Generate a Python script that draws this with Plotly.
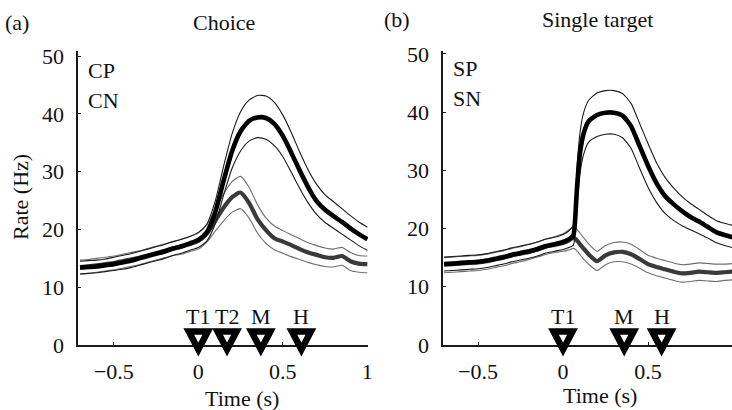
import plotly.graph_objects as go

# ---------------- data ----------------
t_choice = [-0.70, -0.65, -0.60, -0.55, -0.50, -0.45, -0.40, -0.35, -0.30, -0.25, -0.20, -0.15,
            -0.10, -0.05, 0.00, 0.05, 0.10, 0.15, 0.20, 0.25, 0.30, 0.35, 0.40, 0.45, 0.50,
            0.55, 0.60, 0.65, 0.70, 0.75, 0.80, 0.85, 0.90, 0.95, 1.00]

cp_mean = [13.4, 13.5, 13.6, 13.8, 14.0, 14.3, 14.6, 15.0, 15.4, 15.8, 16.2, 16.7,
           17.1, 17.6, 18.2, 19.5, 23.0, 28.5, 33.6, 37.0, 38.8, 39.4, 39.3, 38.3, 36.2,
           33.3, 30.2, 27.3, 24.9, 23.4, 22.3, 21.3, 20.2, 19.2, 18.3]
cp_upper = [14.5, 14.6, 14.7, 14.9, 15.2, 15.5, 15.8, 16.2, 16.6, 17.0, 17.4, 17.9,
            18.3, 18.8, 19.5, 20.9, 24.9, 31.0, 36.6, 40.4, 42.4, 43.2, 43.1, 42.0, 39.8,
            36.8, 33.4, 30.3, 27.8, 26.0, 24.8, 23.6, 22.4, 21.3, 20.4]
cp_lower = [12.3, 12.4, 12.5, 12.7, 12.9, 13.1, 13.4, 13.8, 14.2, 14.6, 15.0, 15.5,
            15.9, 16.4, 16.9, 18.0, 21.0, 26.0, 30.6, 33.6, 35.3, 35.9, 35.6, 34.5, 32.6,
            29.9, 27.1, 24.6, 22.6, 21.2, 20.2, 19.2, 18.2, 17.2, 16.4]

cn_mean = [13.5, 13.6, 13.8, 14.0, 14.2, 14.5, 14.8, 15.1, 15.5, 15.9, 16.3, 16.7,
           17.0, 17.5, 18.0, 19.3, 21.5, 23.8, 25.6, 26.4, 24.6, 21.8, 19.9, 18.5, 17.9,
           17.3, 16.6, 16.0, 15.6, 15.2, 15.1, 15.4, 14.5, 14.1, 14.0]
cn_upper = [14.7, 14.8, 15.0, 15.2, 15.4, 15.7, 16.0, 16.3, 16.7, 17.1, 17.5, 17.9,
            18.3, 18.8, 19.4, 20.8, 23.4, 26.2, 28.3, 29.2, 27.3, 24.3, 22.0, 20.6, 19.8,
            19.1, 18.4, 17.7, 17.2, 16.8, 16.6, 16.9, 16.0, 15.5, 15.4]
cn_lower = [12.3, 12.4, 12.6, 12.8, 13.0, 13.3, 13.6, 13.9, 14.3, 14.7, 15.1, 15.5,
            15.7, 16.2, 16.6, 17.8, 19.7, 21.5, 23.0, 23.6, 22.0, 19.4, 17.6, 16.5, 15.9,
            15.3, 14.8, 14.3, 13.9, 13.6, 13.5, 13.8, 12.9, 12.6, 12.5]

t_single = [-0.70, -0.65, -0.60, -0.55, -0.50, -0.45, -0.40, -0.35, -0.30, -0.25, -0.20, -0.15,
            -0.10, -0.05, 0.00, 0.03, 0.06, 0.07, 0.08, 0.09, 0.10, 0.12, 0.15,
            0.20, 0.25, 0.30, 0.35, 0.40, 0.45, 0.50, 0.55, 0.60, 0.65, 0.70, 0.75,
            0.80, 0.85, 0.90, 0.95, 1.00]

sp_mean = [13.9, 14.0, 14.1, 14.2, 14.3, 14.5, 14.8, 15.1, 15.5, 15.8, 16.1, 16.5,
           17.0, 17.3, 17.7, 18.1, 18.8, 21.0, 26.0, 30.0, 33.0, 36.2, 38.4,
           39.5, 39.9, 39.9, 39.4, 37.6, 34.2, 30.8, 27.8, 25.6, 24.2, 23.0, 22.0,
           21.2, 20.3, 19.4, 18.9, 18.5]
sp_upper = [15.1, 15.2, 15.3, 15.4, 15.5, 15.7, 16.0, 16.3, 16.7, 17.0, 17.3, 17.7,
            18.2, 18.5, 19.0, 19.5, 20.5, 23.5, 29.0, 33.5, 36.5, 39.8, 42.0,
            43.3, 43.7, 43.7, 43.2, 41.5, 38.1, 34.6, 31.3, 28.8, 27.0, 25.5, 24.3,
            23.3, 22.3, 21.4, 20.9, 20.5]
sp_lower = [12.7, 12.8, 12.9, 13.0, 13.1, 13.3, 13.6, 13.9, 14.3, 14.6, 14.9, 15.3,
            15.8, 16.1, 16.4, 16.7, 17.1, 18.5, 22.5, 26.5, 29.5, 32.6, 34.8,
            35.8, 36.2, 36.2, 35.6, 33.8, 30.4, 27.1, 24.5, 22.6, 21.4, 20.5, 19.8,
            19.1, 18.4, 17.6, 17.1, 16.7]

sn_mean = [13.8, 13.9, 14.0, 14.1, 14.2, 14.4, 14.7, 15.0, 15.4, 15.7, 16.0, 16.4,
           16.9, 17.2, 17.5, 17.9, 18.4, 18.3, 18.0, 17.7, 17.3, 16.6, 15.6,
           14.4, 15.4, 15.9, 16.0, 15.6, 14.8, 13.9, 13.4, 13.0, 12.6, 12.3, 12.4,
           12.6, 12.5, 12.4, 12.5, 12.6]
sn_upper = [15.0, 15.1, 15.2, 15.3, 15.4, 15.6, 15.9, 16.2, 16.6, 16.9, 17.3, 17.7,
            18.2, 18.6, 19.1, 19.7, 20.3, 20.2, 19.9, 19.6, 19.2, 18.5, 17.4,
            16.1, 17.1, 17.6, 17.7, 17.3, 16.4, 15.4, 14.9, 14.5, 14.1, 13.8, 13.9,
            14.1, 14.0, 13.9, 13.9, 14.0]
sn_lower = [12.4, 12.5, 12.6, 12.7, 12.8, 13.0, 13.3, 13.6, 14.0, 14.3, 14.7, 15.1,
            15.6, 15.9, 16.1, 16.3, 16.6, 16.5, 16.2, 15.9, 15.5, 14.8, 13.9,
            12.8, 13.8, 14.3, 14.3, 13.9, 13.2, 12.4, 11.9, 11.5, 11.1, 10.8, 10.9,
            11.1, 11.0, 10.9, 11.1, 11.2]

choice_event_times = [0.0, 0.17, 0.37, 0.61]
choice_event_labels = ["T1", "T2", "M", "H"]
single_event_times = [0.0, 0.36, 0.58]
single_event_labels = ["T1", "M", "H"]

x_tick_vals = [-0.5, 0, 0.5, 1]
x_tick_text = ["\u22120.5", "0", "0.5", "1"]
y_tick_vals = [0, 10, 20, 30, 40, 50]

# ---------------- figure ----------------
W, H = 732, 410
FONT = "Liberation Serif, Times New Roman, serif"
FS = 22


def px(x):
    return x / W


def py(y):
    return 1 - y / H


fig = go.Figure()

LINE_SHAPE = dict(shape="spline", smoothing=0.6)


def add_group(t, mean, up, lo, color_mean, color_band, wmean, xa, ya):
    for band in (up, lo):
        fig.add_trace(go.Scatter(x=t, y=band, mode="lines", xaxis=xa, yaxis=ya,
                                 line=dict(color=color_band, width=1.1, **LINE_SHAPE),
                                 showlegend=False, hoverinfo="skip"))
    fig.add_trace(go.Scatter(x=t, y=mean, mode="lines", xaxis=xa, yaxis=ya,
                             line=dict(color=color_mean, width=wmean, **LINE_SHAPE),
                             showlegend=False, hoverinfo="skip"))


add_group(t_choice, cn_mean, cn_upper, cn_lower, "#3a3a3a", "#6e6e6e", 4.2, "x", "y")
add_group(t_choice, cp_mean, cp_upper, cp_lower, "#000000", "#1a1a1a", 4.6, "x", "y")
add_group(t_single, sn_mean, sn_upper, sn_lower, "#3a3a3a", "#6e6e6e", 4.2, "x2", "y2")
add_group(t_single, sp_mean, sp_upper, sp_lower, "#000000", "#1a1a1a", 4.6, "x2", "y2")

y_bottom = py(345)
y_top = py(51)

axis_common = dict(showgrid=False, zeroline=False, showline=True, linecolor="#1a1a1a",
                   linewidth=1.6, ticks="inside", ticklen=3, tickcolor="#1a1a1a",
                   automargin=False,
                   tickfont=dict(family=FONT, size=FS, color="#111"))

fig.update_layout(
    template="none",
    width=W, height=H, margin=dict(l=0, r=0, t=0, b=0, pad=0), autosize=False,
    paper_bgcolor="white", plot_bgcolor="rgba(0,0,0,0)",
    font=dict(family=FONT, size=FS, color="#111"),
    xaxis=dict(domain=[px(78), px(368)], range=[-0.712, 1.004], tickvals=x_tick_vals,
               ticktext=x_tick_text, anchor="y", ticklabelstandoff=6, **axis_common),
    yaxis=dict(domain=[y_bottom, y_top], range=[0, 50.9], tickvals=y_tick_vals,
               anchor="x", ticklabelstandoff=8, **axis_common),
    xaxis2=dict(domain=[px(443), 1.0], range=[-0.706, 0.994], tickvals=x_tick_vals,
                ticktext=x_tick_text, anchor="y2", ticklabelstandoff=6, **axis_common),
    yaxis2=dict(domain=[y_bottom, y_top], range=[0, 50.5], tickvals=y_tick_vals,
                anchor="x2", ticklabelstandoff=8, **axis_common),
)

annotations = []


def text(x, y, s, size=FS, xanchor="center", angle=0):
    annotations.append(dict(x=px(x), y=py(y), xref="paper", yref="paper", text=s,
                            showarrow=False, xanchor=xanchor, yanchor="middle",
                            textangle=angle, borderpad=0,
                            font=dict(family=FONT, size=size, color="#111")))


text(17, 22, "(a)")
text(224, 22, "Choice")
text(397, 19, "(b)")
text(597, 19, "Single target")
text(20, 197, "Rate (Hz)", angle=-90)
text(242, 398, "Time (s)")
text(600, 395, "Time (s)")
text(87, 70, "CP", xanchor="left")
text(87, 100, "CN", xanchor="left")
text(452, 68, "SP", xanchor="left")
text(452, 98, "SN", xanchor="left")

shapes = []
TRI = "M -9.5,13.5 L 9.5,13.5 L 0,-4.5 Z"


def events(times, labels, xa, ya):
    for tt, lab in zip(times, labels):
        shapes.append(dict(type="path", xref=xa, yref="paper", xsizemode="pixel",
                           ysizemode="pixel", xanchor=tt, yanchor=y_bottom, path=TRI,
                           line=dict(color="black", width=6.5), fillcolor="white",
                           layer="above"))
        annotations.append(dict(x=tt, y=4.85, xref=xa, yref=ya, text=lab,
                                showarrow=False, xanchor="center", yanchor="middle",
                                borderpad=0,
                                font=dict(family=FONT, size=FS, color="#111")))


events(choice_event_times, choice_event_labels, "x", "y")
events(single_event_times, single_event_labels, "x2", "y2")

fig.update_layout(annotations=annotations, shapes=shapes)

fig.write_html("out.html",
               config={"displayModeBar": False, "staticPlot": True},
               post_script="document.body.style.margin='0px';"
                           "document.body.style.padding='0px';"
                           "document.body.style.overflow='hidden';")
